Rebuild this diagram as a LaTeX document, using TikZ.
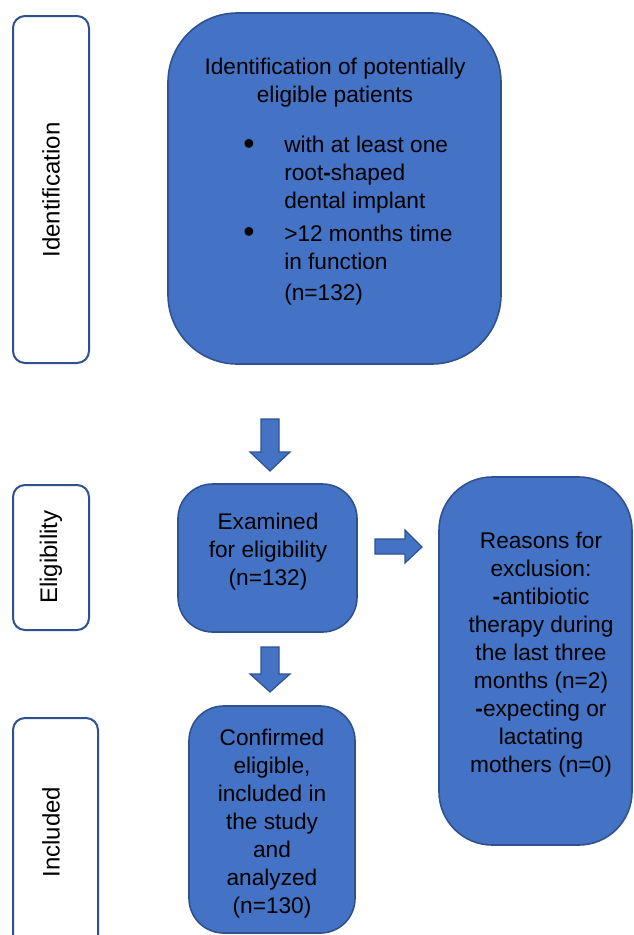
\documentclass[tikz,border=0pt]{standalone}
\usepackage{fontspec}
\setmainfont{Liberation Sans}
\definecolor{boxblue}{RGB}{68,114,196}
\definecolor{edgeblue}{RGB}{47,82,143}
\newcommand{\bdash}{\textbf{-}}
\tikzset{
  bluebox/.style={draw=edgeblue, fill=boxblue, line width=1.2pt},
  labelbox/.style={draw=edgeblue, fill=white, line width=1.5pt},
  txt/.style={font=\fontsize{17}{21}\selectfont, align=center, inner sep=0pt},
  lbltxt/.style={font=\fontsize{18}{21}\selectfont, inner sep=0pt, rotate=90},
  blockarrow/.style={draw=edgeblue, fill=boxblue, line width=0.9pt, line join=miter}
}
\begin{document}
\begin{tikzpicture}[x=0.75pt,y=0.75pt,yscale=-1,xscale=1]
\useasboundingbox (0,0) rectangle (633,935);
\clip (0,0) rectangle (633,935);

%Shape: Rounded Rect [id:ident label]
\draw [labelbox, rounded corners=9] (13,16) rectangle (89,363) ;
%Shape: Rounded Rect [id:elig label]
\draw [labelbox, rounded corners=9] (13,485) rectangle (89,630) ;
%Shape: Rounded Rect [id:incl label]
\draw [labelbox, rounded corners=9] (13,718) rectangle (98,960) ;

%Shape: Rounded Rect [id:identification]
\draw [bluebox, rounded corners=52] (168,13) rectangle (501,364) ;
%Shape: Rounded Rect [id:examined]
\draw [bluebox, rounded corners=26] (178,484) rectangle (357,632) ;
%Shape: Rounded Rect [id:reasons]
\draw [bluebox, rounded corners=40] (439,477) rectangle (632,845) ;
%Shape: Rounded Rect [id:confirmed]
\draw [bluebox, rounded corners=26] (189,706) rectangle (355,933) ;

%Block Arrow: down [id:first]
\draw [blockarrow] (261,419) -- (279,419) -- (279,452) -- (290,452) -- (270,471) -- (250,452) -- (261,452) -- cycle ;
%Block Arrow: down [id:second]
\draw [blockarrow] (261,647) -- (279,647) -- (279,674) -- (290,674) -- (270,692) -- (250,674) -- (261,674) -- cycle ;
%Block Arrow: right [id:exclude]
\draw [blockarrow] (375,539) -- (405,539) -- (405,530) -- (422,547) -- (405,563) -- (405,554) -- (375,554) -- cycle ;

% Text Node
\draw (51,190) node(identlbl) [lbltxt] {Identification};
% Text Node
\draw (51,557) node(eliglbl) [lbltxt] {Eligibility};
% Text Node
\draw (51,832) node(incllbl) [lbltxt] {Included};
% Text Node
\draw (335,83) node(identhead) [txt] {Identification of potentially\\eligible patients};
% Text Node
\draw (249,147) node(bulleta) [txt, font=\fontsize{24}{24}\selectfont] {\textbullet};
% Text Node
\draw (284,175) node(itema) [txt, anchor=west, align=left] {with at least one\\root\bdash shaped\\dental implant};
% Text Node
\draw (249,235) node(bulletb) [txt, font=\fontsize{24}{24}\selectfont] {\textbullet};
% Text Node
\draw (284,265) node(itemb) [txt, anchor=west, align=left] {>12 months time\\in function\\[2pt](n=132)};
% Text Node
\draw (268,552) node(examined) [txt] {Examined\\for eligibility\\(n=132)};
% Text Node
\draw (541,655) node(reasons) [txt] {Reasons for\\exclusion:\\\bdash antibiotic\\therapy during\\the last three\\months (n=2)\\\bdash expecting or\\lactating\\mothers (n=0)};
% Text Node
\draw (272,824) node(confirmed) [txt] {Confirmed\\eligible,\\included in\\the study\\and\\analyzed\\(n=130)};

\end{tikzpicture}
\end{document}
